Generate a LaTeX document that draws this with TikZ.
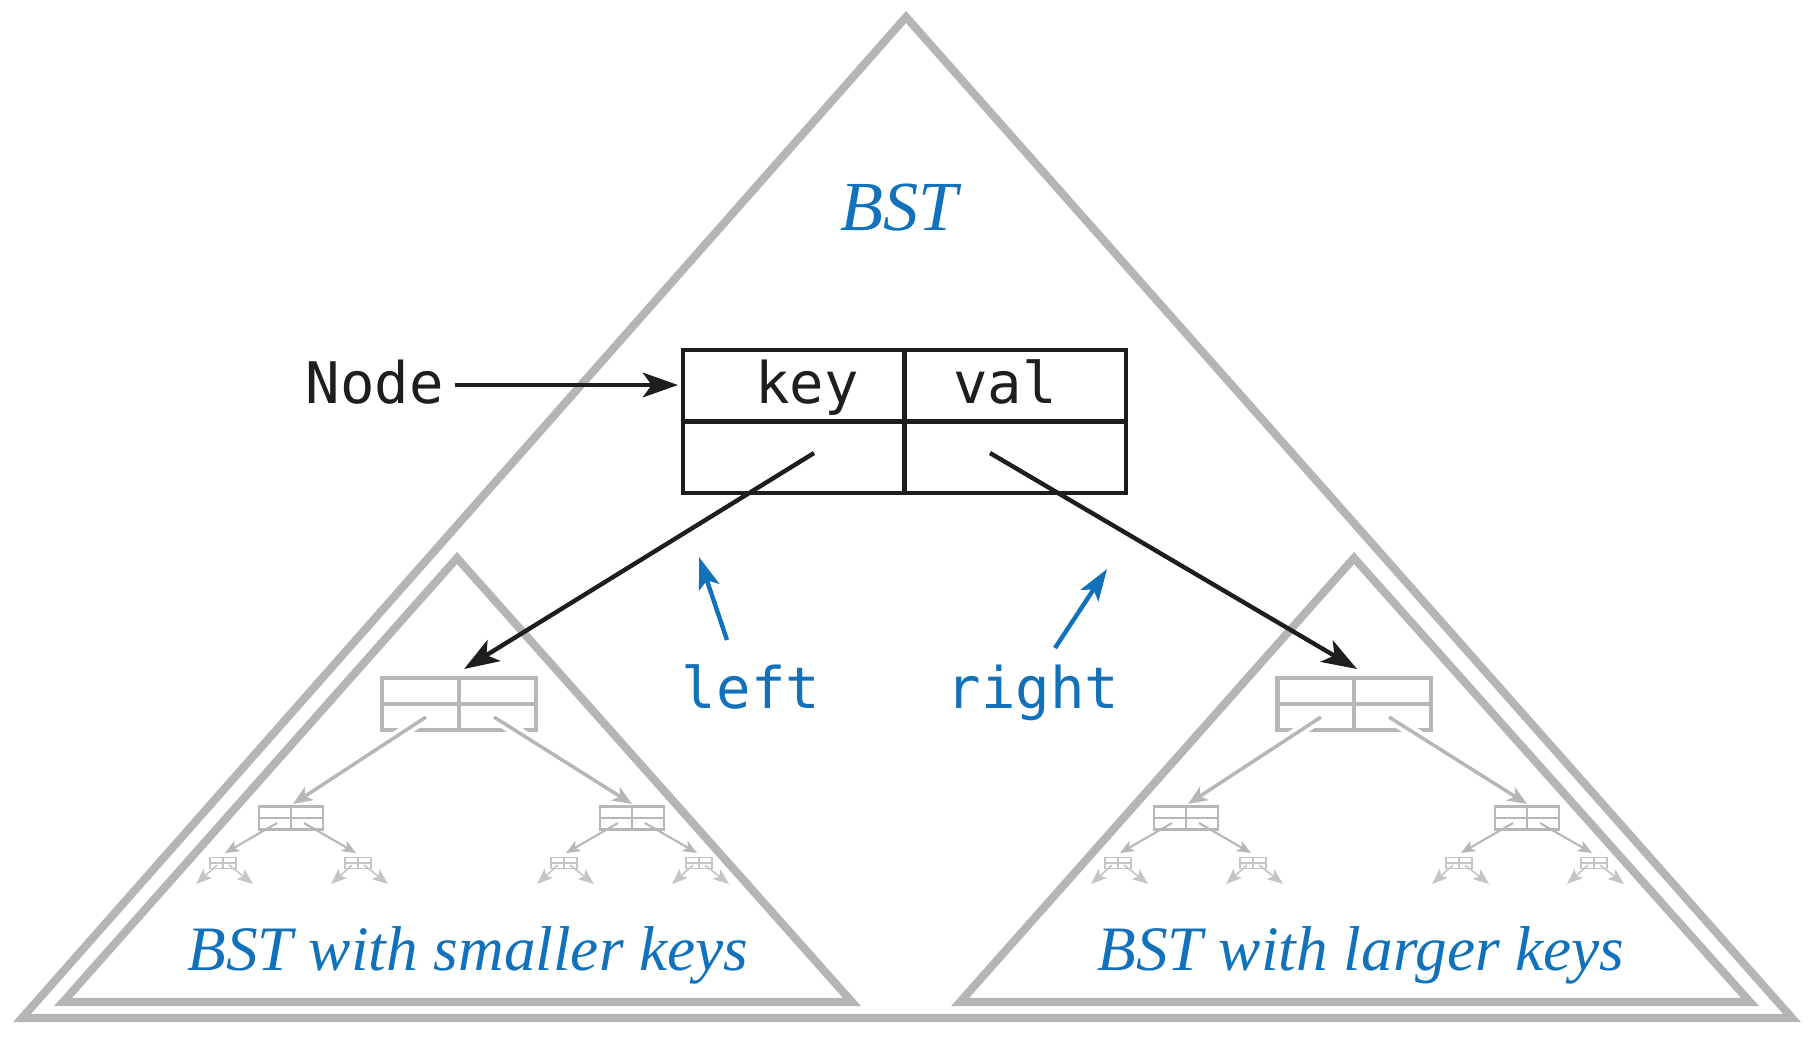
\documentclass[tikz,border=0pt]{standalone}
\usepackage{fontspec}
\setmainfont{Liberation Serif}
\setmonofont{DejaVu Sans Mono}
\usetikzlibrary{arrows.meta,calc}
\definecolor{trigray}{RGB}{180,182,181}
\definecolor{lgray}{RGB}{182,184,183}
\definecolor{llgray}{RGB}{196,197,196}
\definecolor{lab}{RGB}{17,113,186}
\definecolor{ink}{RGB}{30,30,30}
\begin{document}
\begin{tikzpicture}[x=0.01cm,y=-0.01cm,
  tristy/.style={draw=trigray,line width=2.3pt,line join=miter,miter limit=10},
  mono/.style={font=\ttfamily\fontsize{16.3}{19}\selectfont,inner sep=0pt,anchor=base},
  itlab/.style={font=\itshape\fontsize{18}{22}\selectfont,text=lab,inner sep=0pt,anchor=base},
  blk/.style={draw=ink,line width=1.25pt,-{Stealth[length=10pt,width=7pt,inset=2.5pt]}},
  blu/.style={draw=lab,line width=1.25pt,-{Stealth[length=9pt,width=6pt,inset=2pt]}},
  mainbox/.style={draw=ink,line width=1.2pt,minimum width=4.43cm,minimum height=1.43cm,inner sep=0pt},
  g1box/.style={draw=lgray,line width=1.15pt,minimum width=1.53cm,minimum height=0.52cm,inner sep=0pt},
  g2box/.style={draw=lgray,line width=0.7pt,minimum width=0.64cm,minimum height=0.23cm,inner sep=0pt},
  g3box/.style={draw=llgray,line width=0.45pt,minimum width=0.26cm,minimum height=0.11cm,inner sep=0pt},
  g1arr/.style={draw=lgray,line width=1pt,-{Stealth[length=5.5pt,width=4.5pt,inset=1.5pt]}},
  g2arr/.style={draw=lgray,line width=0.6pt,-{Stealth[length=4pt,width=3.3pt,inset=1pt]}},
  g3arr/.style={draw=llgray,line width=0.45pt,-{Stealth[length=4.5pt,width=3.5pt,inset=1pt]}},
  halo/.style={draw=white,line width=3.2pt}
]
\useasboundingbox (0,0) rectangle (1819,1038);
% triangles
\draw[tristy] (906,17) -- (1792,1018) -- (22,1018) -- cycle;
\draw[tristy] (457,558) -- (852,1002) -- (63,1002) -- cycle;
\draw[tristy] (1354,558) -- (1750,1002) -- (960,1002) -- cycle;
% title
\node[itlab,font=\itshape\fontsize{20}{24}\selectfont] (bst) at (899,230) {BST};
% main node
\node[mainbox] (nd) at (904.5,421.5) {};
\draw[draw=ink,line width=1.2pt] (nd.north) -- (nd.south) (nd.west) -- (nd.east);
\node[mono,text=ink] (key) at (807,403) {key};
\node[mono,text=ink] (val) at (1005,403) {val};
\node[mono,text=ink] (nodelbl) at (375,403) {Node};
\coordinate (nodestart) at (455,385);
\coordinate (nodeend) at (678,385);
\draw[blk] (nodestart) -- (nodeend);
% subtrees
\foreach \s/\n in {0/a,895/b}{
 \begin{scope}[shift={(\s,0)}]
  \node[g1box] (L1\n) at (459,704) {};
  \draw[draw=lgray,line width=1.15pt] (L1\n.north) -- (L1\n.south) (L1\n.west) -- (L1\n.east);
  \foreach \d/\m/\sx/\tx in {-168/l/-33/-166, 173/r/35/173}{
    \node[g2box] (L2\n\m) at (459+\d,818) {};
    \draw[draw=lgray,line width=0.7pt] (L2\n\m.north) -- (L2\n\m.south) (L2\n\m.west) -- (L2\n\m.east);
    \coordinate (s1\n\m) at (459+\sx,717);
    \coordinate (t1\n\m) at (459+\tx,804);
    \draw[halo] (s1\n\m) -- ($(s1\n\m)!0.32!(t1\n\m)$);
    \draw[g1arr] (s1\n\m) -- (t1\n\m);
    \foreach \e/\k/\ex/\ux in {-68/l/-14/-66, 67/r/13/65}{
      \node[g3box] (L3\n\m\k) at (459+\d+\e,863) {};
      \draw[draw=llgray,line width=0.45pt] (L3\n\m\k.north) -- (L3\n\m\k.south) (L3\n\m\k.west) -- (L3\n\m\k.east);
      \coordinate (s2\n\m\k) at (459+\d+\ex,823);
      \coordinate (t2\n\m\k) at (459+\d+\ux,853);
      \draw[g2arr] (s2\n\m\k) -- (t2\n\m\k);
      \coordinate (s3\n\m\k) at (459+\d+\e-6,865);
      \coordinate (t3\n\m\k) at (459+\d+\e-27,884);
      \coordinate (s4\n\m\k) at (459+\d+\e+6,865);
      \coordinate (t4\n\m\k) at (459+\d+\e+30,884);
      \draw[g3arr] (s3\n\m\k) -- (t3\n\m\k);
      \draw[g3arr] (s4\n\m\k) -- (t4\n\m\k);
    }
  }
 \end{scope}
}
% main pointers
\coordinate (lptr) at (814,453);
\coordinate (rptr) at (990,453);
\coordinate (ltip) at (464,669);
\coordinate (rtip) at (1357,669);
\draw[blk] (lptr) -- (ltip);
\draw[blk] (rptr) -- (rtip);
% left / right labels
\node[mono,text=lab] (leftlbl) at (751,708) {left};
\node[mono,text=lab] (rightlbl) at (1033,708) {right};
\coordinate (lbs) at (727,640);
\coordinate (lbt) at (699,557);
\coordinate (rbs) at (1055,648);
\coordinate (rbt) at (1107,569);
\draw[blu] (lbs) -- (lbt);
\draw[blu] (rbs) -- (rbt);
% subtree labels
\node[itlab] (smaller) at (468,970) {BST with smaller keys};
\node[itlab] (larger) at (1361,970) {BST with larger keys};
\end{tikzpicture}
\end{document}
